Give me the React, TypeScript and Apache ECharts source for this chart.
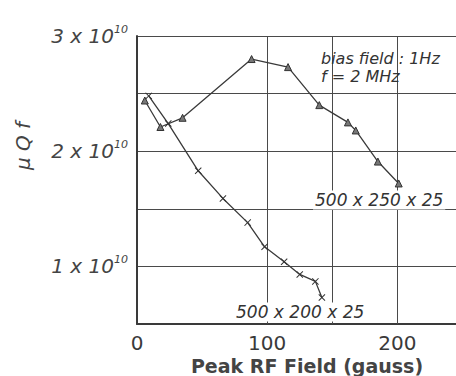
import React, { useEffect, useRef } from "react";
import * as echarts from "echarts";

// 500 x 250 x 25 (triangles)
const triX = [6, 18, 35, 88, 116, 140, 162, 168, 185, 201];
const triY = [2.44e10, 2.21e10, 2.29e10, 2.8e10, 2.73e10, 2.4e10, 2.25e10, 2.18e10, 1.91e10, 1.72e10];
// 500 x 200 x 25 (crosses)
const crossX = [9, 24, 47, 66, 85, 98, 113, 125, 137, 142];
const crossY = [2.48e10, 2.24e10, 1.83e10, 1.59e10, 1.38e10, 1.17e10, 1.04e10, 0.93e10, 0.87e10, 0.73e10];

const xTickLabels = [0, 100, 200];
const yTickLabels = [1e10, 2e10, 3e10];
const xGridLines = [100, 150, 200];

const seriesNames = ["500 x 250 x 25", "500 x 200 x 25"];
const xAxisTitle = "Peak RF Field (gauss)";
const yAxisTitle = "\u03bc Q f";
const noteLine1 = "bias field : 1Hz";
const noteLine2 = "f = 2 MHz";

const CROSS =
  "path://M1,0 L5,4 L9,0 L10,1 L6,5 L10,9 L9,10 L5,6 L1,10 L0,9 L4,5 L0,1 Z";

export default function App() {
  const ref = useRef<HTMLDivElement>(null);
  useEffect(() => {
    if (!ref.current) return;
    const chart = echarts.init(ref.current, null, { renderer: "svg" });
    const ink = "#3a3a3a";
    const font = "DejaVu Sans";
    const note = (text: string, x: number, y: number, size: number, bg: boolean) => ({
      type: "text",
      x,
      y,
      z: 100,
      style: {
        text,
        fontSize: size,
        fontStyle: "italic",
        fontFamily: font,
        fill: "#333",
        align: "left",
        verticalAlign: "middle",
        backgroundColor: bg ? "#fff" : undefined,
        padding: bg ? [1, 2] : 0,
      },
    });
    chart.setOption({
      animation: false,
      backgroundColor: "#ffffff",
      grid: { left: 137, top: 36, right: 0, bottom: 52, show: false },
      xAxis: {
        type: "value",
        min: 0,
        max: 245,
        interval: 50,
        axisLine: { show: true, lineStyle: { color: ink, width: 2 } },
        axisTick: { show: false },
        splitLine: { show: false },
        axisLabel: {
          margin: 9,
          fontSize: 20,
          fontFamily: font,
          color: ink,
          showMaxLabel: false,
          formatter: (v: number) => (xTickLabels.includes(v) ? String(v) : ""),
        },
      },
      yAxis: {
        type: "value",
        min: 0.5e10,
        max: 3e10,
        interval: 0.5e10,
        axisLine: { show: true, lineStyle: { color: ink, width: 2 } },
        axisTick: { show: false },
        splitLine: { show: true, lineStyle: { color: "#4a4a4a", width: 1 } },
        axisLabel: {
          margin: 9,
          formatter: (v: number) =>
            yTickLabels.includes(v) ? `{m|${v / 1e10} x 10}{s|10}` : "",
          rich: {
            m: { fontSize: 20, fontStyle: "italic", fontFamily: font, color: "#444", lineHeight: 24 },
            s: { fontSize: 11, fontStyle: "italic", fontFamily: font, color: "#444", verticalAlign: "top", lineHeight: 12 },
          },
        },
      },
      series: [
        {
          name: seriesNames[0],
          type: "line",
          data: triX.map((x, i) => [x, triY[i]]),
          symbol: "triangle",
          symbolSize: 7,
          lineStyle: { color: ink, width: 1.3 },
          itemStyle: { color: "#777", borderColor: "#333", borderWidth: 1 },
          markLine: {
            silent: true,
            symbol: "none",
            label: { show: false },
            lineStyle: { color: "#4a4a4a", width: 1, type: "solid" },
            data: xGridLines.map((x) => ({ xAxis: x })),
            z: 1,
          },
        },
        {
          name: seriesNames[1],
          type: "line",
          data: crossX.map((x, i) => [x, crossY[i]]),
          symbol: CROSS,
          symbolSize: 7,
          lineStyle: { color: ink, width: 1.3 },
          itemStyle: { color: "#333" },
        },
      ],
      graphic: [
        {
          type: "text",
          x: 23,
          y: 146,
          rotation: Math.PI / 2,
          z: 100,
          style: {
            text: yAxisTitle,
            fontSize: 20,
            fontStyle: "italic",
            fontFamily: font,
            fill: "#444",
            align: "center",
            verticalAlign: "middle",
          },
        },
        {
          type: "text",
          x: 307,
          y: 366,
          z: 100,
          style: {
            text: xAxisTitle,
            fontSize: 19,
            fontWeight: "bold",
            fontFamily: font,
            fill: "#444",
            align: "center",
            verticalAlign: "middle",
          },
        },
        note(noteLine1, 321, 58, 16, false),
        note(noteLine2, 321, 76, 16, false),
        note(seriesNames[0], 313, 200, 17, true),
        note(seriesNames[1], 234, 312, 17, true),
      ],
    });
    return () => chart.dispose();
  }, []);
  return (
    <div
      ref={ref}
      style={{ position: "fixed", left: 0, top: 0, width: 456, height: 376 }}
    />
  );
}
